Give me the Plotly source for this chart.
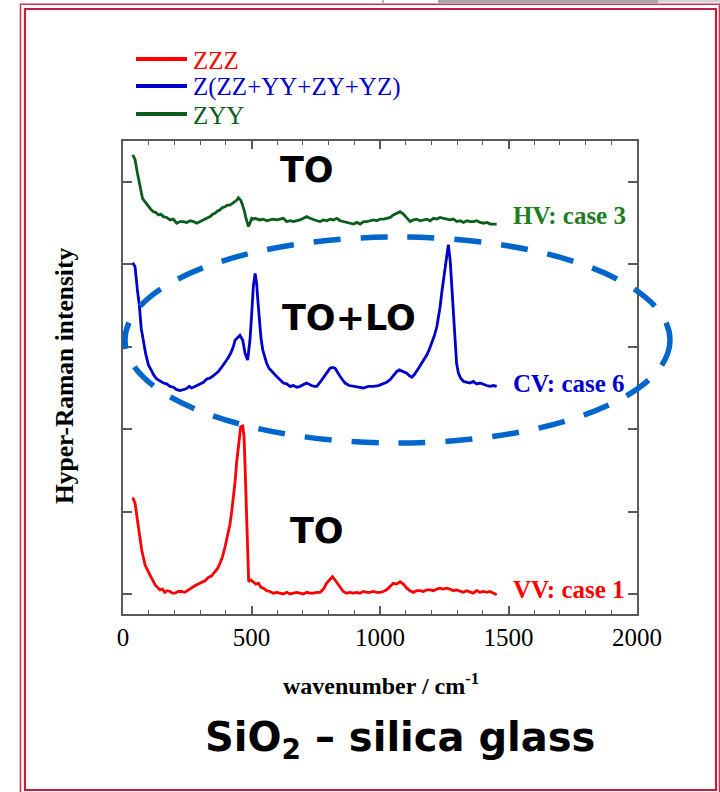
import plotly.graph_objects as go

# ---------------- data ----------------
ZZZ = [(38, 1.17), (47, 1.10), (56, 0.90), (66, 0.70), (73, 0.53), (86, 0.35), (95, 0.30), (105, 0.23),
       (115, 0.17), (125, 0.11), (134, 0.08), (144, 0.05), (153, 0.06), (163, 0.02), (173, 0.04), (183, 0.03),
       (192, 0.01), (202, 0.01), (215, 0.03), (228, 0.03), (240, 0.02), (254, 0.05), (267, 0.07), (280, 0.10),
       (293, 0.12), (306, 0.14), (319, 0.16), (332, 0.20), (345, 0.22), (358, 0.27), (368, 0.31), (377, 0.37),
       (387, 0.45), (397, 0.57), (407, 0.70), (416, 0.84), (423, 1.00), (429, 1.14), (436, 1.36), (442, 1.59),
       (448, 1.76), (453, 1.91), (458, 2.03), (466, 2.04), (471, 1.91), (476, 1.45), (481, 1.02), (485, 0.55),
       (489, 0.15), (498, 0.17), (507, 0.15), (517, 0.12), (527, 0.13), (537, 0.08), (546, 0.07), (559, 0.04),
       (572, 0.03), (585, 0.01), (598, 0.02), (611, 0.01), (624, 0.00), (637, 0.02), (650, 0.00), (663, 0.01),
       (676, 0.02), (689, 0.01), (702, 0.00), (715, 0.02), (728, 0.01), (741, 0.01), (754, 0.02), (767, 0.02),
       (780, 0.06), (792, 0.13), (804, 0.17), (815, 0.21), (825, 0.17), (834, 0.13), (845, 0.07), (857, 0.03),
       (870, 0.01), (883, 0.02), (896, 0.01), (909, 0.02), (922, 0.01), (935, 0.03), (948, 0.02), (961, 0.02),
       (974, 0.03), (987, 0.02), (1000, 0.02), (1013, 0.03), (1026, 0.05), (1039, 0.09), (1052, 0.13),
       (1065, 0.12), (1078, 0.15), (1091, 0.12), (1104, 0.07), (1117, 0.04), (1130, 0.02), (1143, 0.04),
       (1156, 0.04), (1169, 0.03), (1182, 0.05), (1195, 0.05), (1208, 0.04), (1221, 0.06), (1233, 0.07),
       (1246, 0.06), (1259, 0.07), (1272, 0.06), (1285, 0.04), (1298, 0.05), (1311, 0.03), (1324, 0.02),
       (1337, 0.04), (1350, 0.02), (1363, 0.01), (1376, 0.04), (1389, 0.02), (1402, 0.03), (1415, 0.02),
       (1428, 0.03), (1441, 0.01), (1454, -0.01)]

ZSUM = [(38, 4.02), (47, 3.97), (56, 3.69), (64, 3.49), (71, 3.22), (79, 3.08), (88, 2.92), (99, 2.78),
        (112, 2.70), (121, 2.65), (131, 2.61), (144, 2.58), (157, 2.56), (170, 2.55), (183, 2.52), (196, 2.51),
        (209, 2.48), (222, 2.47), (235, 2.48), (246, 2.49), (258, 2.52), (266, 2.50), (274, 2.51), (287, 2.53),
        (300, 2.55), (313, 2.57), (326, 2.61), (338, 2.62), (352, 2.65), (361, 2.67), (371, 2.70), (381, 2.74),
        (391, 2.78), (400, 2.82), (410, 2.87), (420, 2.93), (429, 3.00), (436, 3.08), (445, 3.11), (455, 3.14),
        (466, 3.08), (475, 2.92), (485, 2.84), (494, 3.08), (501, 3.41), (507, 3.73), (514, 3.89), (520, 3.77),
        (525, 3.55), (531, 3.28), (537, 3.10), (544, 2.96), (551, 2.88), (559, 2.80), (568, 2.74), (579, 2.70),
        (588, 2.67), (598, 2.64), (611, 2.60), (624, 2.56), (637, 2.55), (650, 2.52), (663, 2.53), (676, 2.51),
        (689, 2.52), (702, 2.54), (714, 2.56), (722, 2.55), (733, 2.53), (745, 2.52), (754, 2.52), (767, 2.57),
        (780, 2.62), (792, 2.68), (806, 2.74), (815, 2.75), (825, 2.74), (834, 2.69), (845, 2.64), (854, 2.60),
        (864, 2.56), (880, 2.53), (897, 2.52), (916, 2.51), (935, 2.50), (955, 2.52), (974, 2.52), (994, 2.53),
        (1013, 2.55), (1026, 2.57), (1039, 2.60), (1052, 2.65), (1065, 2.70), (1075, 2.72), (1084, 2.71),
        (1094, 2.70), (1104, 2.68), (1114, 2.65), (1124, 2.63), (1133, 2.66), (1143, 2.70), (1152, 2.75),
        (1162, 2.80), (1172, 2.85), (1182, 2.90), (1192, 2.97), (1201, 3.04), (1211, 3.13), (1221, 3.24),
        (1228, 3.36), (1234, 3.49), (1240, 3.65), (1247, 3.81), (1254, 4.00), (1260, 4.17), (1266, 4.24),
        (1273, 4.05), (1278, 3.80), (1283, 3.49), (1288, 3.20), (1293, 2.96), (1298, 2.80), (1305, 2.68),
        (1314, 2.62), (1325, 2.58), (1337, 2.57), (1350, 2.56), (1363, 2.58), (1376, 2.55), (1389, 2.56),
        (1402, 2.54), (1415, 2.53), (1428, 2.52), (1441, 2.53), (1454, 2.52)]

ZYY = [(38, 5.33), (47, 5.27), (56, 5.11), (66, 4.94), (76, 4.80), (86, 4.76), (99, 4.70), (108, 4.67),
       (118, 4.64), (128, 4.63), (138, 4.60), (147, 4.61), (157, 4.58), (170, 4.57), (183, 4.54), (196, 4.55),
       (209, 4.50), (222, 4.52), (235, 4.52), (248, 4.51), (261, 4.53), (274, 4.52), (287, 4.50), (300, 4.52),
       (313, 4.54), (326, 4.56), (339, 4.58), (349, 4.61), (358, 4.62), (368, 4.65), (377, 4.66), (387, 4.69),
       (397, 4.70), (407, 4.72), (416, 4.72), (426, 4.74), (436, 4.76), (443, 4.78), (449, 4.81), (458, 4.78),
       (463, 4.74), (468, 4.70), (473, 4.64), (477, 4.58), (482, 4.52), (488, 4.46), (494, 4.50), (501, 4.56),
       (507, 4.55), (514, 4.56), (523, 4.55), (533, 4.54), (546, 4.55), (559, 4.53), (572, 4.54), (585, 4.55),
       (598, 4.54), (611, 4.55), (624, 4.56), (637, 4.52), (650, 4.53), (663, 4.52), (676, 4.53), (689, 4.54),
       (702, 4.56), (715, 4.58), (728, 4.56), (741, 4.54), (754, 4.53), (767, 4.52), (780, 4.54), (793, 4.53),
       (806, 4.55), (819, 4.54), (832, 4.56), (845, 4.53), (858, 4.52), (871, 4.51), (884, 4.50), (897, 4.49),
       (910, 4.51), (923, 4.49), (936, 4.52), (949, 4.52), (962, 4.53), (975, 4.54), (988, 4.53), (1001, 4.55),
       (1014, 4.55), (1027, 4.56), (1040, 4.57), (1052, 4.60), (1065, 4.62), (1078, 4.64), (1091, 4.61),
       (1104, 4.56), (1117, 4.52), (1130, 4.54), (1143, 4.55), (1156, 4.53), (1169, 4.54), (1182, 4.55),
       (1195, 4.53), (1208, 4.56), (1221, 4.55), (1234, 4.57), (1247, 4.56), (1260, 4.55), (1273, 4.54),
       (1286, 4.55), (1299, 4.52), (1312, 4.53), (1325, 4.51), (1338, 4.53), (1351, 4.52), (1364, 4.52),
       (1377, 4.53), (1390, 4.51), (1403, 4.50), (1416, 4.51), (1429, 4.49), (1442, 4.49), (1454, 4.49)]

series_names = ["ZZZ", "Z(ZZ+YY+ZY+YZ)", "ZYY"]
case_labels = ["VV: case 1", "CV: case 6", "HV: case 3"]
case_label_y = [0.05, 2.56, 4.59]
mode_labels = ["TO", "TO+LO", "TO"]
mode_label_pos = [(755, 0.77), (880, 3.35), (715, 5.15)]
x_ticks = [0, 500, 1000, 1500, 2000]
y_ticks = [0, 1, 2, 3, 4, 5]

# ---------------- styling ----------------
line_colors = ["#ff0000", "#0000cc", "#0b5d1e"]
label_colors = ["#ff0000", "#0000cc", "#1e7d1e"]
AX = "#5a5a5a"
SERIF = "Liberation Serif"
W, H = 720, 792
L, R, T, B = 123, 83, 141, 178


def px(x):
    return (x - L) / (W - L - R)


def py(y):
    return (H - B - y) / (H - T - B)


fig = go.Figure()
for data, name, col in zip([ZZZ, ZSUM, ZYY], series_names, line_colors):
    fig.add_trace(go.Scatter(x=[p[0] for p in data], y=[p[1] for p in data], mode="lines",
                             name=name, line=dict(color=col, width=2.8), showlegend=False))

fig.update_layout(
    width=W, height=H, margin=dict(l=L, r=R, t=T, b=B),
    paper_bgcolor="white", plot_bgcolor="white",
    xaxis=dict(range=[0, 2000], tickvals=x_ticks, ticks="inside", ticklen=8, tickwidth=1.5,
               tickcolor=AX, showline=True, linecolor=AX, linewidth=1.5, mirror="ticks",
               showgrid=False, zeroline=False, ticklabelstandoff=0,
               tickfont=dict(family=SERIF, size=25, color="black"),
               minor=dict(dtick=100, ticks="inside", ticklen=4, tickwidth=1, tickcolor=AX, showgrid=False)),
    yaxis=dict(range=[-0.243, 5.498], tickvals=y_ticks, ticks="inside", ticklen=9, tickwidth=1.5,
               tickcolor=AX, showline=True, linecolor=AX, linewidth=1.5, mirror="ticks",
               showgrid=False, zeroline=False, showticklabels=False),
)

ann = []
# mode labels
for txt, (xx, yy) in zip(mode_labels, mode_label_pos):
    ann.append(dict(x=xx, y=yy, xref="x", yref="y", text="<b>" + txt + "</b>", showarrow=False,
                    xanchor="center", yanchor="middle",
                    font=dict(family="DejaVu Sans", size=35, color="black")))
# case labels
for txt, yy, col in zip(case_labels, case_label_y, label_colors):
    ann.append(dict(x=1510, y=yy, xref="x", yref="y", text="<b>" + txt + "</b>", showarrow=False,
                    xanchor="left", yanchor="middle", font=dict(family=SERIF, size=25, color=col)))
# legend (manual)
leg_y = [59, 86, 114]
shapes = []
for name, col, yy in zip(series_names, line_colors, leg_y):
    shapes.append(dict(type="line", xref="paper", yref="paper", x0=px(136), x1=px(187), y0=py(yy), y1=py(yy),
                       line=dict(color=col, width=4)))
    ann.append(dict(x=px(191), y=py(yy + 1), xref="paper", yref="paper", text=name, showarrow=False,
                    xanchor="left", yanchor="middle", font=dict(family=SERIF, size=25, color=col)))
# axis titles
ann.append(dict(x=px(64), y=py(376), xref="paper", yref="paper", text="<b>Hyper-Raman intensity</b>",
                showarrow=False, textangle=-90, xanchor="center", yanchor="middle",
                font=dict(family=SERIF, size=25.5, color="black")))
ann.append(dict(x=px(381), y=py(684), xref="paper", yref="paper", text="<b>wavenumber / cm<sup>-1</sup></b>",
                showarrow=False, xanchor="center", yanchor="middle",
                font=dict(family=SERIF, size=24, color="black")))
# title
ann.append(dict(x=px(400), y=py(740), xref="paper", yref="paper", text="<b>SiO<sub>2</sub> \u2013 silica glass</b>",
                showarrow=False, xanchor="center", yanchor="middle",
                font=dict(family="DejaVu Sans", size=40, color="black")))

# dashed ellipse
shapes.append(dict(type="circle", xref="paper", yref="paper", x0=px(125), x1=px(670), y0=py(443), y1=py(237),
                   line=dict(color="#0066cc", width=5.5, dash="27px,20px"), layer="above"))
# frame
shapes.append(dict(type="rect", xref="paper", yref="paper", x0=px(25), x1=px(716), y0=py(790), y1=py(9),
                   line=dict(color="#c41e3a", width=2.2)))
shapes.append(dict(type="rect", xref="paper", yref="paper", x0=px(20.5), x1=px(719.5), y0=py(805), y1=py(4.2),
                   line=dict(color="#cc3350", width=1.6)))
# slide artefacts at top
shapes.append(dict(type="rect", xref="paper", yref="paper", x0=px(438), x1=px(658), y0=py(3.3), y1=py(-2),
                   fillcolor="#a8a8a8", line=dict(width=0)))
shapes.append(dict(type="rect", xref="paper", yref="paper", x0=px(658), x1=px(722), y0=py(2.6), y1=py(-2),
                   fillcolor="#d2d2d2", line=dict(width=0)))
shapes.append(dict(type="line", xref="paper", yref="paper", x0=px(383), x1=px(383), y0=py(4), y1=py(-2),
                   line=dict(color="#b5b5b5", width=2)))

fig.update_layout(annotations=ann, shapes=shapes)
fig.write_html("out.html")
